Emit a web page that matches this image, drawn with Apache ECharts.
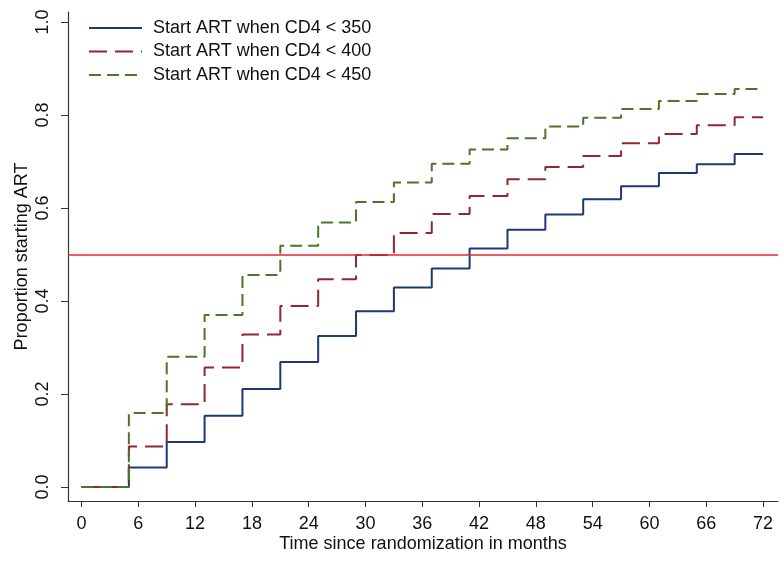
<!DOCTYPE html>
<html>
<head>
<meta charset="utf-8">
<script src="https://cdn.jsdelivr.net/npm/echarts@6/dist/echarts.min.js"></script>
<style>
    html, body { margin: 0; padding: 0; background: #fff; }
    #chart { width: 780px; height: 561px; }
</style>
</head>
<body>
<div id="chart"></div>
<script>
// months where the curves step up (plus the end of follow-up)
let months = [0, 5, 9, 13, 17, 21, 25, 29, 33, 37, 41, 45, 49, 53, 57, 61, 65, 69, 72];
// proportion starting ART
let cd4_350 = [0, 0.042, 0.097, 0.153, 0.211, 0.269, 0.325, 0.378, 0.429, 0.470, 0.513, 0.553, 0.586, 0.619, 0.647, 0.675, 0.694, 0.716, 0.716];
let cd4_400 = [0, 0.087, 0.178, 0.257, 0.328, 0.389, 0.447, 0.499, 0.546, 0.587, 0.626, 0.662, 0.688, 0.712, 0.739, 0.759, 0.778, 0.795, 0.795];
let cd4_450 = [0, 0.159, 0.280, 0.370, 0.456, 0.519, 0.569, 0.613, 0.655, 0.695, 0.726, 0.750, 0.775, 0.794, 0.813, 0.830, 0.845, 0.856, 0.856];
let names = ['Start ART when CD4 < 350', 'Start ART when CD4 < 400', 'Start ART when CD4 < 450'];
let xTicks = [0, 6, 12, 18, 24, 30, 36, 42, 48, 54, 60, 66, 72];
let yTicks = [0, 0.2, 0.4, 0.6, 0.8, 1.0];
let refLine = 0.5;

function pairs(ys) {
    return months.map(function (m, i) { return [m, ys[i]]; });
}

let font = "'Liberation Sans', Arial, sans-serif";
let myChart = echarts.init(document.getElementById('chart'));
let option = {
    animation: false,
    textStyle: { fontFamily: font },
    grid: { left: 68, right: 2, top: 12, bottom: 60 },
    legend: {
        orient: 'vertical',
        left: 83,
        top: 14,
        itemWidth: 53,
        itemHeight: 20,
        itemGap: 5.5,
        itemStyle: { opacity: 0 },
        textStyle: { fontSize: 18, color: '#111', fontFamily: font, padding: [0, 0, 0, 6] },
        data: names
    },
    xAxis: {
        type: 'value',
        min: -1.43,
        max: 73.58,
        name: 'Time since randomization in months',
        nameLocation: 'middle',
        nameGap: 34,
        nameMoveOverlap: false,
        nameTextStyle: { fontSize: 18, color: '#111' },
        axisLine: { show: true, onZero: false, lineStyle: { color: '#333', width: 1.2 } },
        axisTick: { show: true, length: 6, customValues: xTicks, lineStyle: { color: '#333' } },
        axisLabel: { customValues: xTicks, fontSize: 18, color: '#111', margin: 14 },
        splitLine: { show: false }
    },
    yAxis: {
        type: 'value',
        min: -0.0301,
        max: 1.0215,
        name: 'Proportion starting ART',
        nameLocation: 'middle',
        nameGap: 37,
        nameMoveOverlap: false,
        nameTextStyle: { fontSize: 18, color: '#111' },
        axisLine: { show: true, onZero: false, lineStyle: { color: '#333', width: 1.2 } },
        axisTick: { show: true, length: 7, customValues: yTicks, lineStyle: { color: '#333' } },
        axisLabel: {
            customValues: yTicks,
            rotate: 90,
            fontSize: 18,
            color: '#111',
            margin: 16,
            formatter: function (v) { return v.toFixed(1); }
        },
        splitLine: { show: false }
    },
    series: [
        {
            name: names[0],
            type: 'line',
            step: 'end',
            symbol: 'none',
            data: pairs(cd4_350),
            lineStyle: { color: '#1c3a72', width: 2 },
            itemStyle: { color: '#1c3a72' },
            markLine: {
                silent: true,
                symbol: 'none',
                label: { show: false },
                lineStyle: { color: '#e4262f', type: 'solid', width: 1.5 },
                data: [{ yAxis: refLine }]
            }
        },
        {
            name: names[1],
            type: 'line',
            step: 'end',
            symbol: 'none',
            data: pairs(cd4_400),
            lineStyle: { color: '#93262f', width: 2, type: [18, 8] },
            itemStyle: { color: '#93262f' }
        },
        {
            name: names[2],
            type: 'line',
            step: 'end',
            symbol: 'none',
            data: pairs(cd4_450),
            lineStyle: { color: '#4b7626', width: 2, type: [12, 6] },
            itemStyle: { color: '#4b7626' }
        }
    ]
};
myChart.setOption(option);
</script>
</body>
</html>
